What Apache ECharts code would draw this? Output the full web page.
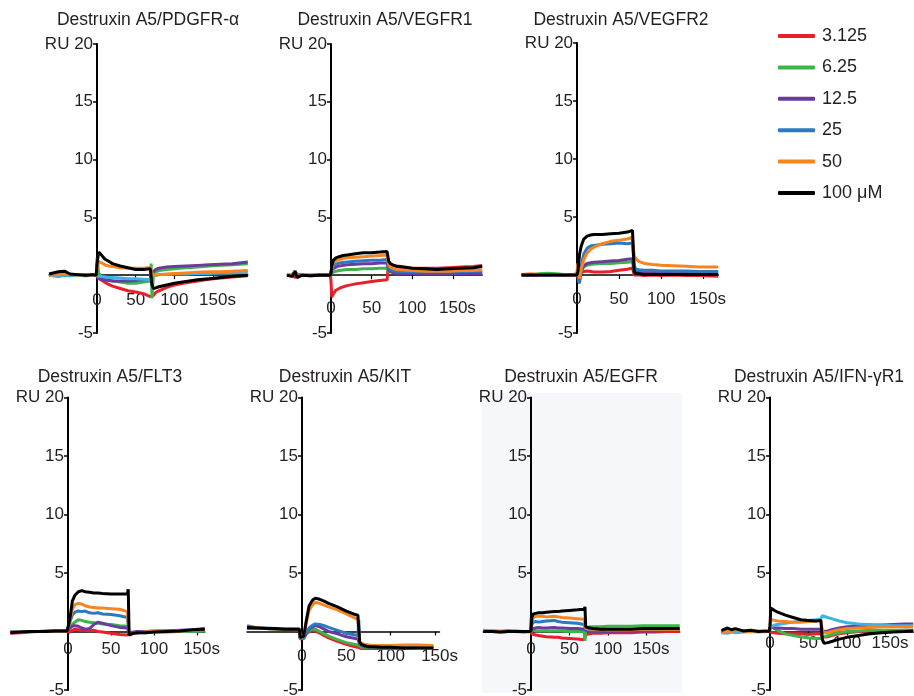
<!DOCTYPE html>
<html>
<head>
<meta charset="utf-8">
<script src="https://cdn.jsdelivr.net/npm/echarts@6/dist/echarts.min.js"></script>
<style>html,body{margin:0;padding:0;background:#fff}#c{width:914px;height:696px}</style>
</head>
<body>
<div id="c"></div>
<script>
// ---------- DATA ----------
const legendNames = ['3.125', '6.25', '12.5', '25', '50', '100 μM'];
const panelTitles = ['Destruxin A5/PDGFR-α', 'Destruxin A5/VEGFR1', 'Destruxin A5/VEGFR2',
  'Destruxin A5/FLT3', 'Destruxin A5/KIT', 'Destruxin A5/EGFR', 'Destruxin A5/IFN-γR1'];
const xTickValues = [0, 50, 100, 150];
const yTickLabels = { '20': 'RU 20', '15': '15', '10': '10', '5': '5', '0': '', '-5': '-5' };

// Panel 1: PDGFR-α
const p1Time = [-62,-50,-42,-35,-25,-15,-5,-1,0,2,5,10,15,20,30,40,50,60,69,70,71,73,76,80,90,100,115,130,145,160,175,195];
const p1V3125 = [0,-0.1,0,0.05,0,-0.05,0,0, 0,-0.2,-0.4,-0.6,-0.8,-0.95,-1.15,-1.35,-1.45,-1.6,-1.85,-1.9, -2.0,-1.75,-1.5,-1.35,-1.05,-0.85,-0.65,-0.5,-0.35,-0.25,-0.15,-0.05];
const p1V625 = [0,0.05,0,-0.05,0,0.05,0,0, 1.5,0.2,-0.1,-0.3,-0.4,-0.5,-0.6,-0.7,-0.7,-0.6,-0.5,1.0, -2.0,0.1,0.3,0.4,0.5,0.55,0.65,0.7,0.8,0.85,0.9,1.0];
const p1V125 = [0.05,0,0,0.05,0,0,0,0, -0.1,-0.3,-0.35,-0.4,-0.45,-0.5,-0.5,-0.5,-0.45,-0.4,-0.35,-0.35, 0.2,0.35,0.5,0.6,0.7,0.75,0.8,0.85,0.9,0.95,1.0,1.15];
const p1V25 = [0,-0.05,0,0,-0.05,0,0,0, 0,-0.1,-0.1,-0.15,-0.2,-0.2,-0.25,-0.3,-0.3,-0.35,-0.4,-0.4, -0.1,0,0,0.05,0.05,0.1,0.1,0.15,0.15,0.2,0.2,0.25];
const p1V50 = [0,0.05,0.15,0.1,0,0.05,0,0, 0.5,1.2,1.1,0.9,0.8,0.75,0.65,0.6,0.6,0.6,0.65,0.7, 0.1,-0.05,0,0.05,0.1,0.15,0.2,0.25,0.3,0.3,0.35,0.4];
const p1V100 = [0.1,0.3,0.35,0.1,0.05,0,0.05,0, 1.0,2.0,1.8,1.4,1.2,1.0,0.8,0.65,0.5,0.5,0.55,0.6, -0.8,-1.15,-1.1,-1.0,-0.85,-0.7,-0.55,-0.4,-0.3,-0.2,-0.1,0];

// Panel 2: VEGFR1
const p2Time = [-54,-48,-44,-42,-35,-25,-15,-5,-1,0,1,3,6,10,15,20,30,40,50,60,69,70,71,73,76,80,90,100,115,130,145,160,175,186];
const p2V3125 = [0,-0.05,-0.2,0.1,0,-0.05,0,0,0, -0.5,-1.9,-1.6,-1.3,-1.15,-1.0,-0.9,-0.75,-0.65,-0.55,-0.45,-0.4,-0.35, 1.2,1.0,0.85,0.75,0.65,0.6,0.6,0.6,0.65,0.7,0.75,0.85];
const p2V625 = [0,0,0.1,-0.05,0,0,0,0,0, 0.05,0.2,0.3,0.35,0.4,0.45,0.5,0.5,0.55,0.55,0.6,0.6,0.6, 0.3,0.25,0.25,0.2,0.2,0.2,0.2,0.2,0.25,0.25,0.25,0.3];
const p2V125 = [0,-0.05,0.2,0,0,0,0,0.05,0, 0.2,0.5,0.6,0.7,0.8,0.85,0.9,0.95,1.0,1.0,1.05,1.05,1.05, 0.4,0.3,0.25,0.2,0.15,0.15,0.1,0.1,0.1,0.15,0.15,0.15];
const p2V25 = [0,0,0.4,-0.1,0,0,0.05,0,0, 0.1,0.5,0.8,0.95,1.05,1.1,1.15,1.2,1.25,1.3,1.3,1.35,1.35, 0.6,0.45,0.4,0.35,0.3,0.3,0.3,0.3,0.3,0.3,0.35,0.35];
const p2V50 = [0.05,0,0.3,-0.1,0,0,0,0,0, 0.1,0.6,1.1,1.25,1.35,1.45,1.5,1.55,1.6,1.65,1.7,1.75,1.75, 0.9,0.7,0.6,0.5,0.45,0.4,0.35,0.35,0.35,0.4,0.4,0.45];
const p2V100 = [0,-0.1,0.3,-0.2,0,-0.05,0,0,0, 0.2,0.8,1.3,1.5,1.6,1.7,1.75,1.85,1.95,1.95,2.0,2.05,2.0, 1.2,1.0,0.9,0.8,0.7,0.6,0.55,0.5,0.55,0.6,0.65,0.75];

// Panel 3: VEGFR2
const p3Time = [-66,-55,-45,-35,-25,-15,-8,-3,0,1,2,3,5,8,12,16,20,30,40,50,60,66,67,68,70,74,80,90,100,115,130,145,168];
const p3V3125 = [0,-0.05,0,0,0,-0.05,0,0, 0,0.1,-0.2,0,0.2,0.3,0.35,0.3,0.25,0.25,0.3,0.4,0.5,0.6,0.6, 0,-0.1,0,-0.05,0,-0.05,0,-0.05,-0.05,-0.1];
const p3V625 = [0.05,0,0.1,0.15,0.1,0.05,0.05,0, 0,0.3,-0.3,-0.2,0.3,0.7,0.85,0.9,0.95,1.0,1.0,1.05,1.1,1.15,1.1, 0.4,0.35,0.3,0.3,0.3,0.25,0.25,0.25,0.25,0.25];
const p3V125 = [0,0,0.05,0,0.05,0,0,0, 0,-0.2,-0.7,-0.5,0.4,0.8,1.0,1.05,1.1,1.15,1.2,1.25,1.35,1.4,1.4, 0.3,0.2,0.2,0.15,0.15,0.15,0.1,0.1,0.1,0.05];
const p3V25 = [0,0.05,0,0,0.05,0,0,0, 0,0.2,-0.5,-0.7,0.8,1.8,2.3,2.5,2.55,2.65,2.7,2.75,2.7,2.75,2.7, 0.8,0.5,0.45,0.4,0.4,0.35,0.35,0.35,0.3,0.3];
const p3V50 = [0.05,0.1,0.05,0.05,0.05,0.05,0,0, 0.3,1.0,0.2,-0.3,0.5,1.3,1.9,2.2,2.4,2.7,2.9,3.0,3.1,3.25,3.2, 1.7,1.4,1.15,1.0,0.9,0.85,0.8,0.75,0.7,0.7];
const p3V100 = [0,0,0,0,0,0,0,0, 0,0.3,1.0,1.8,2.5,3.1,3.35,3.45,3.5,3.5,3.55,3.6,3.7,3.85,3.8, 0.3,0.1,0.1,0.05,0.05,0.05,0.05,0.05,0.05,0.05];

// Panel 4: FLT3
const p4Time = [-67,-55,-45,-35,-25,-15,-5,-1,0,2,5,8,12,16,20,25,30,35,40,50,60,69,70,71,73,76,80,90,100,115,130,145,159];
const p4V3125 = [-0.15,-0.1,-0.05,0,0,0,0,0, -0.05,-0.05,0.1,0.2,0.15,0.1,0.1,0.05,0.1,0,-0.05,-0.15,-0.25,-0.3,-0.3, -0.2,-0.2,-0.15,-0.1,-0.05,0,0,0.05,0.05,0.1];
const p4V625 = [-0.1,-0.05,0,0,0,0.05,0.05,0.05, 0,0.3,0.6,0.8,1.0,0.95,0.85,0.8,0.75,0.7,0.65,0.6,0.5,0.45,0.4, -0.15,-0.15,-0.1,-0.1,-0.1,-0.05,-0.05,0,0,0.05];
const p4V125 = [-0.05,-0.05,0,0,0.05,0.05,0.05,0.05, 0,0.3,0.45,0.5,0.45,0.3,0.2,0.25,0.6,0.8,0.7,0.5,0.35,0.3,0.3, -0.1,-0.1,-0.05,0,0,0.05,0.05,0.1,0.15,0.25];
const p4V25 = [-0.05,-0.05,0,0,0,0.05,0.05,0.05, 0.05,0.8,1.4,1.65,1.75,1.7,1.75,1.6,1.55,1.6,1.5,1.45,1.35,1.2,1.15, -0.25,-0.2,-0.15,-0.1,-0.05,0,0.05,0.05,0.1,0.15];
const p4V50 = [-0.1,-0.05,0,0,0,0.05,0.05,0.05, 0.1,0.8,1.9,2.3,2.4,2.35,2.2,2.1,2.05,2.0,2.0,1.95,1.9,1.7,1.65, -0.2,-0.2,-0.15,-0.1,-0.05,0,0,0.05,0.1,0.15];
const p4V100 = [-0.1,-0.05,0,0,0,0.05,0.05,0.05, 0.1,1.0,2.6,3.1,3.4,3.5,3.4,3.35,3.3,3.3,3.25,3.2,3.2,3.2,3.6, -0.3,-0.2,-0.15,-0.1,-0.1,-0.05,0,0.05,0.15,0.2];

// Panel 5: KIT
const p5Time = [-62,-50,-40,-30,-20,-10,-3,-2,0,2,5,8,12,15,20,25,30,40,50,60,63,64,65,67,70,75,80,90,100,115,130,148];
const p5V3125 = [0.3,0.25,0.25,0.2,0.2,0.15,0.15, -0.65,-0.75,-0.6, -0.2,0,0.1,0.05,-0.15,-0.35,-0.55,-0.85,-1.1,-1.3,-1.35,-1.4, -1.45,-1.45,-1.45,-1.45,-1.45,-1.45,-1.45,-1.45,-1.4,-1.4];
const p5V625 = [0.3,0.3,0.25,0.2,0.2,0.2,0.15, -0.6,-0.7,-0.55, -0.1,0.1,0.2,0.2,0,-0.2,-0.4,-0.7,-0.95,-1.1,-1.15,-1.2, -1.3,-1.35,-1.35,-1.35,-1.35,-1.35,-1.35,-1.35,-1.35,-1.35];
const p5V125 = [0.3,0.25,0.25,0.25,0.2,0.2,0.2, -0.55,-0.65,-0.5, -0.1,0.2,0.4,0.5,0.4,0.2,0,-0.2,-0.45,-0.6,-0.65,-0.7, -1.1,-1.25,-1.3,-1.3,-1.3,-1.3,-1.3,-1.3,-1.3,-1.3];
const p5V25 = [0.5,0.3,0.3,0.25,0.2,0.2,0.2, -0.6,-0.7,-0.5, 0,0.3,0.55,0.65,0.6,0.5,0.35,0.1,-0.15,-0.3,-0.35,1.0, -1.0,-1.2,-1.25,-1.3,-1.3,-1.3,-1.3,-1.25,-1.3,-1.3];
const p5V50 = [0.35,0.3,0.25,0.25,0.2,0.2,0.2, -0.5,-0.6,-0.4, 0.8,1.8,2.3,2.5,2.4,2.25,2.1,1.85,1.5,1.15,1.0,1.0, -0.9,-1.0,-1.1,-1.15,-1.2,-1.2,-1.2,-1.15,-1.15,-1.2];
const p5V100 = [0.35,0.3,0.25,0.25,0.2,0.2,0.2, -0.5,-0.6,-0.4, 1.0,2.2,2.7,2.85,2.75,2.6,2.4,2.1,1.75,1.45,1.4,1.4, -0.9,-1.1,-1.2,-1.3,-1.3,-1.35,-1.35,-1.4,-1.4,-1.4];

// Panel 6: EGFR
const p6Time = [-62,-50,-40,-30,-20,-10,-1,0,1,3,6,10,15,20,30,35,40,50,60,69,70,71,73,76,80,90,100,115,130,145,160,175,193];
const p6V3125 = [0,0,-0.05,0,0,-0.05,0, 0,-0.2,-0.3,-0.3,-0.35,-0.4,-0.45,-0.5,-0.5,-0.55,-0.6,-0.65,-0.7,-0.7, -0.25,-0.2,-0.2,-0.15,-0.15,-0.1,-0.1,-0.1,-0.05,-0.05,0,0];
const p6V625 = [0.05,0,0,0.05,0,0,0, 1.2,0.3,0.1,0.05,0.05,0.05,0.05,0.05,0.05,0.05,0,0,0,-0.8, 0.2,0.35,0.4,0.4,0.4,0.45,0.45,0.45,0.5,0.5,0.5,0.5];
const p6V125 = [0,0,0,0.05,0,0,0, 0,0.2,0.3,0.3,0.35,0.3,0.3,0.35,0.3,0.3,0.25,0.25,0.2,0.2, 0.1,0.05,0.05,0,0,0,0.05,0.05,0.05,0.05,0.1,0.1];
const p6V25 = [0,0.05,0,0,0.05,0,0, 0.1,0.6,0.8,0.85,0.8,0.85,0.9,0.95,0.85,0.8,0.75,0.7,0.6,0.6, 0.2,0.15,0.15,0.1,0.1,0.1,0.1,0.15,0.15,0.15,0.15,0.2];
const p6V50 = [0.1,0.05,0.05,0,0,0,0, 0.1,0.9,1.2,1.3,1.3,1.3,1.25,1.3,1.25,1.2,1.15,1.1,1.05,1.0, 0.3,0.25,0.2,0.2,0.2,0.15,0.15,0.15,0.2,0.2,0.2,0.2];
const p6V100 = [0,0,-0.05,0,0,0,0, 0.2,1.2,1.5,1.55,1.6,1.6,1.65,1.7,1.7,1.75,1.8,1.85,1.9,2.1, 0.4,0.3,0.3,0.25,0.2,0.2,0.2,0.2,0.25,0.25,0.25,0.25];

// Panel 7: IFN-γR1
const p7Time = [-63,-55,-50,-45,-35,-25,-15,-5,-1,0,1,3,6,10,20,30,40,50,60,66,67,68,70,75,80,90,100,115,130,145,160,175,186];
const p7V3125 = [-0.05,0,0.05,-0.05,0,0,0,0,0, 0,-0.05,-0.1,-0.1,-0.15,-0.2,-0.2,-0.2,-0.25,-0.2,-0.2,-0.2, -0.5,-0.55,-0.45,-0.35,-0.2,-0.1,0,0.05,0.05,0.05,0.1,0.1];
const p7V625 = [0,0.05,0,0,0.05,0,0,0,0, 0.3,0.5,0.4,0.25,0.1,-0.2,-0.35,-0.45,-0.55,-0.6,-0.6,-0.6, -0.5,-0.45,-0.35,-0.25,-0.1,0,0.05,0.1,0.1,0.1,0.1,0.1];
const p7V125 = [0,0,0.05,0,0,0,0,0,0, 0.2,0.4,0.35,0.3,0.3,0.25,0.25,0.2,0.2,0.2,0.2,0.2, 0.1,0,0.05,0.15,0.3,0.4,0.45,0.5,0.55,0.6,0.65,0.65];
const p7V25 = [-0.1,-0.15,-0.05,-0.1,-0.05,0,-0.05,0,0, 0.2,0.4,0.5,0.55,0.6,0.7,0.8,0.9,0.95,1.0,1.05,1.1, 1.35,1.3,1.2,1.1,0.9,0.75,0.65,0.6,0.55,0.5,0.5,0.5];
const p7V50 = [0,0.05,0,0.1,0.05,0,0.05,0,0, 0.5,1.0,1.0,0.95,0.9,0.85,0.8,0.8,0.85,0.9,0.95,0.95, 0.1,-0.1,-0.1,0,0.15,0.25,0.3,0.35,0.4,0.4,0.4,0.45];
const p7V100 = [0.1,0.3,0.15,0.25,0.05,0.1,0,0.05,0, 0.5,2.0,1.95,1.8,1.65,1.4,1.2,1.0,0.95,0.9,0.95,0.95, -0.7,-1.0,-0.95,-0.85,-0.65,-0.5,-0.35,-0.2,-0.1,-0.05,0,0.05];

// ---------- LAYOUT / STYLE ----------
const colors = ['#e8202a', '#3cb44a', '#6b3a9e', '#2b79c4', '#f6841f', '#000000'];
const cyan = '#3ab4e8';
const FONT = '"Liberation Sans", Arial, Helvetica, sans-serif';
const TXT = '#231f20';
const panelData = [
  { time: p1Time, vals: [p1V3125, p1V625, p1V125, p1V25, p1V50, p1V100], cyan: true },
  { time: p2Time, vals: [p2V3125, p2V625, p2V125, p2V25, p2V50, p2V100] },
  { time: p3Time, vals: [p3V3125, p3V625, p3V125, p3V25, p3V50, p3V100] },
  { time: p4Time, vals: [p4V3125, p4V625, p4V125, p4V25, p4V50, p4V100] },
  { time: p5Time, vals: [p5V3125, p5V625, p5V125, p5V25, p5V50, p5V100] },
  { time: p6Time, vals: [p6V3125, p6V625, p6V125, p6V25, p6V50, p6V100] },
  { time: p7Time, vals: [p7V3125, p7V625, p7V125, p7V25, p7V50, p7V100], cyan: true }
];
const layout = [
  { left: 49.1, top: 44, width: 198.7, height: 289, xMin: -62, xMax: 195, lm: 17, tx: 148, ty: 11 },
  { left: 287.1, top: 44, width: 195.1, height: 289, xMin: -54, xMax: 186, lm: 25, tx: 385, ty: 11 },
  { left: 521.6, top: 43, width: 196.6, height: 290, xMin: -66, xMax: 168, lm: 16, tx: 621, ty: 11 },
  { left: 10.4, top: 397.5, width: 194.4, height: 292.5, xMin: -67, xMax: 159, lm: 9, tx: 110, ty: 368 },
  { left: 247, top: 397.5, width: 192.5, height: 292.5, xMin: -62, xMax: 155, lm: 16, tx: 345, ty: 368 },
  { left: 483.3, top: 397.5, width: 196.4, height: 292.5, xMin: -62, xMax: 193, lm: 9, tx: 581, ty: 368 },
  { left: 721.5, top: 397.5, width: 191.7, height: 292.5, xMin: -63, xMax: 186, lm: 3, tx: 819, ty: 368 }
];

const grids = [], xAxes = [], yAxes = [], series = [], titles = [];
layout.forEach((L, i) => {
  grids.push({ left: L.left, top: L.top, width: L.width, height: L.height,
    containLabel: false, outerBoundsMode: 'none' });
  titles.push({ text: panelTitles[i], left: L.tx, top: L.ty, textAlign: 'center', padding: 0,
    textStyle: { fontFamily: FONT, fontSize: 17.5, fontWeight: 'normal', color: TXT } });
  // pixel offsets that move the axes onto the zero lines
  const yAxisShift = -(L.width * (0 - L.xMin) / (L.xMax - L.xMin));
  const xAxisShift = -(L.height * 5 / 25);
  xAxes.push({
    type: 'value', gridIndex: i, min: L.xMin, max: L.xMax, position: 'bottom', offset: xAxisShift,
    axisLine: { onZero: false, lineStyle: { color: '#000', width: 1.5 } },
    axisTick: { show: true, customValues: xTickValues, length: 4, lineStyle: { color: '#000', width: 1.2 } },
    axisLabel: {
      customValues: xTickValues, margin: L.lm, fontFamily: FONT, fontSize: 17, color: TXT,
      formatter: v => v === 150 ? '{sp|}150s' : String(v),
      rich: { sp: { width: 9 } }
    },
    splitLine: { show: false }
  });
  yAxes.push({
    type: 'value', gridIndex: i, min: -5, max: 20, interval: 5, position: 'left', offset: yAxisShift,
    axisLine: { show: true, onZero: false, lineStyle: { color: '#000', width: 2 } },
    axisTick: { show: true, length: 4, lineStyle: { color: '#000', width: 1.5 } },
    axisLabel: { margin: 4, fontFamily: FONT, fontSize: 17, color: TXT,
      formatter: v => yTickLabels[String(v)] },
    splitLine: { show: false }
  });
  const P = panelData[i];
  P.vals.forEach((arr, k) => {
    series.push({
      type: 'line', name: legendNames[k], xAxisIndex: i, yAxisIndex: i,
      data: P.time.map((t, j) => [t, arr[j]]),
      showSymbol: false, symbol: 'none',
      lineStyle: { width: 3, color: (k === 3 && P.cyan) ? cyan : colors[k] },
      itemStyle: { color: (k === 3 && P.cyan) ? cyan : colors[k] },
      emphasis: { disabled: true }
    });
  });
});

const chart = echarts.init(document.getElementById('c'), null, { renderer: 'canvas' });
chart.setOption({
  animation: false,
  backgroundColor: '#ffffff',
  title: titles,
  graphic: [{ type: 'rect', z: -10, silent: true, shape: { x: 482, y: 393, width: 200, height: 300 },
    style: { fill: '#f5f7fb' } }],
  legend: {
    orient: 'vertical', left: 778, top: 27, padding: 0, icon: 'roundRect', itemWidth: 37, itemHeight: 4,
    itemGap: 13.4, selectedMode: false,
    textStyle: { fontFamily: FONT, fontSize: 18, color: TXT, lineHeight: 18, padding: [0, 0, 0, 2] },
    data: legendNames.map((n, k) => ({ name: n, itemStyle: { color: colors[k] } }))
  },
  grid: grids, xAxis: xAxes, yAxis: yAxes, series: series
});
</script>
</body>
</html>
